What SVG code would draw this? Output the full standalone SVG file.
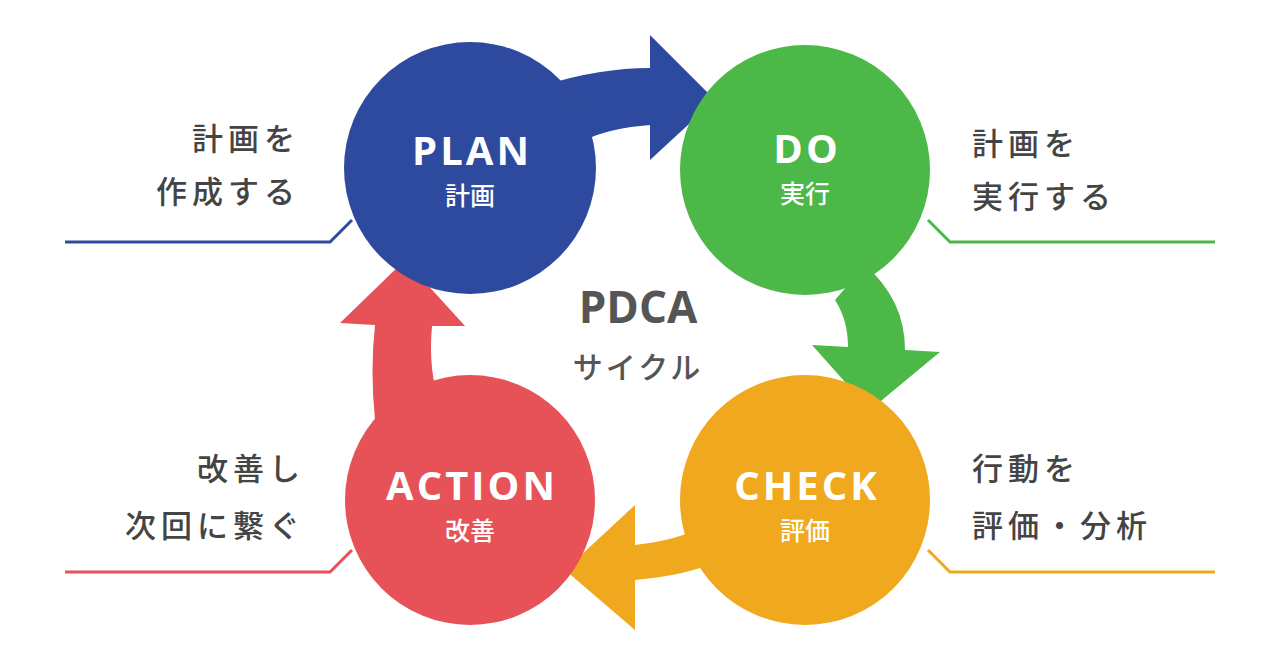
<svg xmlns="http://www.w3.org/2000/svg" width="1280" height="669" viewBox="0 0 1280 669">
<style>
.side{font-family:"Noto Sans CJK JP",sans-serif;font-size:31px;font-weight:500;fill:#444;letter-spacing:5px}
.en{font-family:"Open Sans","Noto Sans CJK JP",sans-serif;font-weight:bold;font-size:40px;fill:#fff;text-anchor:middle;letter-spacing:3px}
.jp{font-family:"Noto Sans CJK JP",sans-serif;font-size:25px;font-weight:500;fill:#fff;text-anchor:middle}
.ln{fill:none;stroke-width:3}
</style>
<rect width="1280" height="669" fill="#fff"/>
<g id="connectors">
<path d="M545,85 Q600,68 650,68 L650,35 L715,100 L650,160 L650,125 Q610,128 585,140 Z" fill="#2e4a9e"/>
<path d="M865,265 Q905,300 905,350 L940,352 L870,410 L812,345 L848,347 Q848,320 835,300 Z" fill="#4cb848"/>
<path d="M720,560 Q690,575 635,580 L635,630 L565,570 L635,505 L635,545 Q680,540 705,525 Z" fill="#f0a81e"/>
<path d="M375,420 Q370,370 375,325 L340,323 L405,260 L465,326 L432,326 Q428,370 440,405 Z" fill="#e65257"/>
<path class="ln" stroke="#2e4a9e" d="M65,242 H330 L352,220"/>
<path class="ln" stroke="#4cb848" d="M1215,242 H950 L928,220"/>
<path class="ln" stroke="#e65257" d="M65,572 H330 L352,550"/>
<path class="ln" stroke="#f0a81e" d="M1215,572 H950 L928,550"/>
</g>
<g id="plan"><circle cx="470" cy="168" r="126" fill="#2e4a9e"/><text class="en" x="472" y="165">PLAN</text><text class="jp" x="470" y="205">計画</text></g>
<g id="do"><circle cx="805" cy="170" r="125" fill="#4cb848"/><text class="en" x="807" y="163">DO</text><text class="jp" x="805" y="203">実行</text></g>
<g id="check"><circle cx="805" cy="500" r="125" fill="#f0a81e"/><text class="en" x="807" y="500">CHECK</text><text class="jp" x="805" y="540">評価</text></g>
<g id="action"><circle cx="470" cy="500" r="125" fill="#e65257"/><text class="en" x="472" y="500">ACTION</text><text class="jp" x="470" y="540">改善</text></g>
<g id="center"><text x="638" y="323" text-anchor="middle" font-family="Open Sans,sans-serif" font-weight="bold" font-size="44" fill="#555">PDCA</text><text x="638" y="378" text-anchor="middle" font-family="Noto Sans CJK JP,sans-serif" font-size="30" font-weight="500" fill="#555" letter-spacing="3">サイクル</text></g>
<g id="labels">
<text class="side" x="300" y="150" text-anchor="end">計画を</text>
<text class="side" x="300" y="203" text-anchor="end">作成する</text>
<text class="side" x="972" y="155">計画を</text>
<text class="side" x="972" y="208">実行する</text>
<text class="side" x="305" y="480" text-anchor="end">改善し</text>
<text class="side" x="305" y="537" text-anchor="end">次回に繋ぐ</text>
<text class="side" x="972" y="480">行動を</text>
<text class="side" x="972" y="537">評価・分析</text>
</g>
</svg>
